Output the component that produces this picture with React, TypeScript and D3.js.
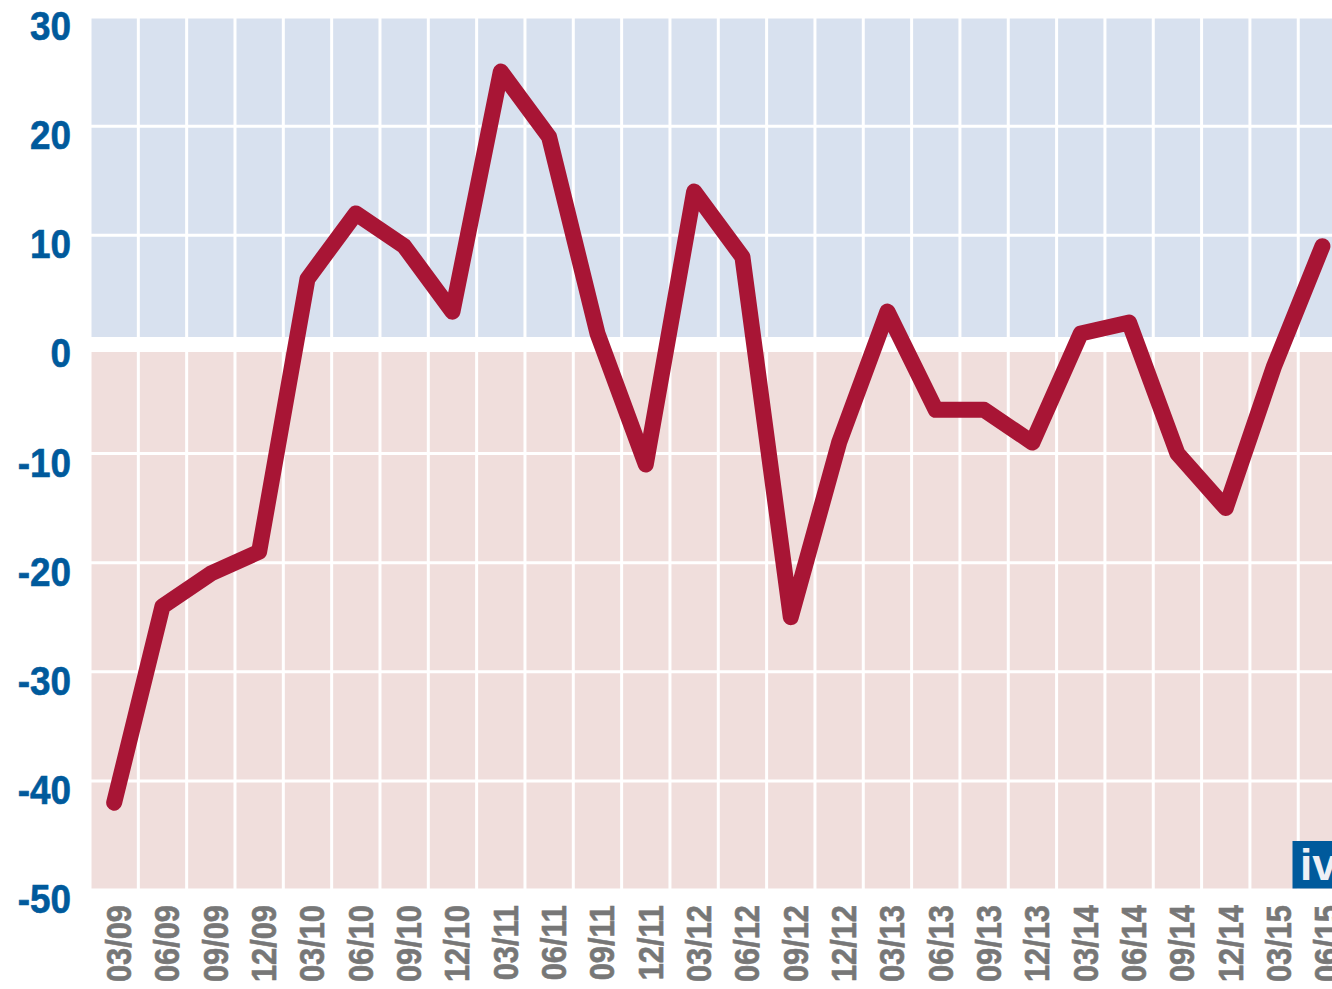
import React, { useEffect, useRef } from 'react';
import * as d3 from 'd3';

// quarters shown on the x axis
const quarters = [
  '03/09', '06/09', '09/09', '12/09',
  '03/10', '06/10', '09/10', '12/10',
  '03/11', '06/11', '09/11', '12/11',
  '03/12', '06/12', '09/12', '12/12',
  '03/13', '06/13', '09/13', '12/13',
  '03/14', '06/14', '09/14', '12/14',
  '03/15', '06/15'
];

// balance values
const values = [
  -42, -24, -21, -19,
  6, 12, 9, 3,
  25, 19, 1, -11,
  14, 8, -25, -9,
  3, -6, -6, -9,
  1, 2, -10, -15,
  -2, 9
];

const yTicks = [30, 20, 10, 0, -10, -20, -30, -40, -50];

const W = 1332;
const H = 989;

export default function App() {
  const ref = useRef(null);

  useEffect(() => {
    const svg = d3.select(ref.current);
    svg.selectAll('*').remove();

    const dims = { left: 90, top: 17, bottom: 890, band: 48.33 };
    const right = dims.left + dims.band * quarters.length;

    const x = d3
      .scaleBand()
      .domain(quarters)
      .range([dims.left, right])
      .padding(0);
    const y = d3.scaleLinear().domain([-50, 30]).range([dims.bottom, dims.top]);

    // no condensed font installed, so squeeze Liberation Sans bold
    const font = "'Liberation Sans', Arial, sans-serif";

    // backgrounds: blue above zero, pink below
    svg
      .append('rect')
      .attr('x', dims.left)
      .attr('y', y(30))
      .attr('width', right - dims.left)
      .attr('height', y(0) - y(30))
      .attr('fill', '#d8e1ef');
    svg
      .append('rect')
      .attr('x', dims.left)
      .attr('y', y(0))
      .attr('width', right - dims.left)
      .attr('height', y(-50) - y(0))
      .attr('fill', '#f0dedc');

    const grid = svg.append('g').attr('stroke', '#fff');
    grid
      .selectAll('line.v')
      .data(d3.range(quarters.length + 1))
      .enter()
      .append('line')
      .attr('x1', (i) => dims.left + i * x.bandwidth())
      .attr('x2', (i) => dims.left + i * x.bandwidth())
      .attr('y1', y(30))
      .attr('y2', y(-50))
      .attr('stroke-width', 3);
    grid
      .selectAll('line.h')
      .data(yTicks)
      .enter()
      .append('line')
      .attr('x1', dims.left)
      .attr('x2', right)
      .attr('y1', (d) => y(d))
      .attr('y2', (d) => y(d))
      .attr('stroke-width', (d) => (d === 0 ? 15 : 3));

    // y axis labels
    svg
      .append('g')
      .selectAll('text')
      .data(yTicks)
      .enter()
      .append('text')
      .attr('transform', (d) => `translate(71,${y(d) + 23}) scale(0.9,1)`)
      .attr('text-anchor', 'end')
      .attr('font-family', font)
      .attr('font-weight', 'bold')
      .attr('font-size', 41)
      .attr('fill', '#005a9c')
      .attr('stroke', '#005a9c')
      .attr('stroke-width', 0.6)
      .text((d) => d);

    // x axis labels, rotated
    svg
      .append('g')
      .selectAll('text')
      .data(quarters)
      .enter()
      .append('text')
      .attr(
        'transform',
        (d) => `translate(${x(d) + x.bandwidth() / 2 + 17},905) rotate(-90) scale(0.88,1)`
      )
      .attr('text-anchor', 'end')
      .attr('font-family', font)
      .attr('font-weight', 'bold')
      .attr('font-size', 35)
      .attr('fill', '#777777')
      .attr('stroke', '#777777')
      .attr('stroke-width', 0.6)
      .text((d) => d);

    const line = d3
      .line()
      .x((d, i) => x(quarters[i]) + x.bandwidth() / 2)
      .y((d) => y(d));

    svg
      .append('path')
      .datum(values)
      .attr('d', line)
      .attr('fill', 'none')
      .attr('stroke', '#a81535')
      .attr('stroke-width', 16)
      .attr('stroke-linejoin', 'round')
      .attr('stroke-linecap', 'round');

    // logo
    svg
      .append('rect')
      .attr('x', 1292.5)
      .attr('y', 841)
      .attr('width', 60)
      .attr('height', 47.5)
      .attr('fill', '#005a9c');
    svg
      .append('text')
      .attr('x', 1300)
      .attr('y', 880)
      .attr('font-family', font)
      .attr('font-weight', 'bold')
      .attr('font-size', 44)
      .attr('fill', '#eef0f5')
      .text('iv');
  }, []);

  return (
    <svg
      ref={ref}
      width={W}
      height={H}
      style={{ position: 'absolute', left: 0, top: 0, background: '#fff' }}
    />
  );
}
